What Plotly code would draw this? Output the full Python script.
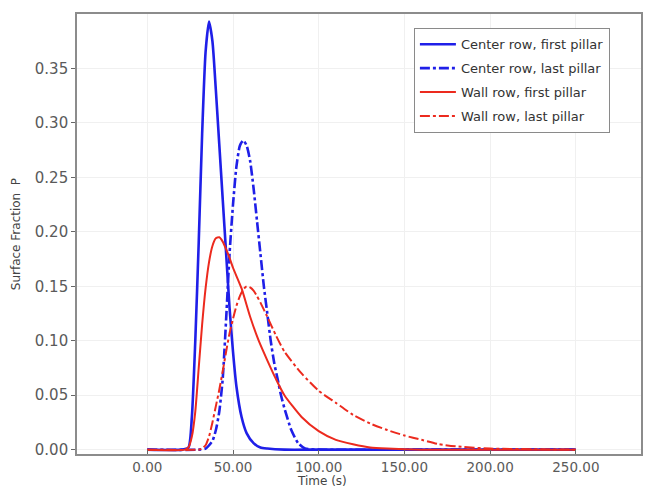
import plotly.graph_objects as go

# Time samples (s) and surface fraction P for each monitored pillar
t_center_first = [0, 20, 24, 26, 28, 30, 32, 34, 36, 38, 40, 42, 44, 46, 48, 50,
                  52, 55, 58, 62, 66, 70, 80, 100, 150, 200, 250]
p_center_first = [0, 0, 0.002, 0.03, 0.10, 0.19, 0.29, 0.365, 0.393, 0.375, 0.33,
                  0.28, 0.23, 0.18, 0.13, 0.09, 0.058, 0.03, 0.015, 0.006, 0.002,
                  0.001, 0, 0, 0, 0, 0]

t_center_last = [0, 30, 34, 38, 40, 42, 44, 46, 48, 50, 52, 54, 56, 58, 60, 62, 64,
                 66, 68, 70, 72, 74, 76, 78, 80, 84, 88, 92, 100, 150, 200, 250]
p_center_last = [0, 0, 0.001, 0.008, 0.018, 0.035, 0.065, 0.12, 0.18, 0.225, 0.26,
                 0.279, 0.284, 0.279, 0.265, 0.24, 0.21, 0.18, 0.15, 0.125, 0.10,
                 0.08, 0.065, 0.05, 0.038, 0.018, 0.006, 0.001, 0, 0, 0, 0]

t_wall_first = [0, 22, 24, 26, 28, 30, 32, 34, 36, 38, 40, 42, 44, 46, 48, 50, 55,
                60, 65, 70, 75, 80, 90, 100, 110, 120, 130, 140, 160, 200, 250]
p_wall_first = [0, 0, 0.002, 0.012, 0.035, 0.075, 0.115, 0.148, 0.172, 0.187, 0.194,
                0.195, 0.191, 0.184, 0.176, 0.167, 0.148, 0.122, 0.10, 0.082, 0.065,
                0.05, 0.03, 0.017, 0.009, 0.005, 0.002, 0.001, 0, 0, 0]

t_wall_last = [0, 30, 32, 34, 36, 38, 40, 42, 44, 46, 48, 50, 52, 54, 56, 58, 60, 62,
               64, 66, 70, 75, 80, 90, 100, 110, 120, 130, 140, 150, 160, 170, 180,
               200, 250]
p_wall_last = [0, 0, 0.001, 0.004, 0.012, 0.025, 0.04, 0.055, 0.072, 0.09, 0.107,
               0.12, 0.132, 0.141, 0.147, 0.150, 0.149, 0.146, 0.141, 0.135, 0.122,
               0.105, 0.09, 0.07, 0.054, 0.043, 0.032, 0.024, 0.018, 0.013, 0.009,
               0.005, 0.003, 0.001, 0]

series_names = ["Center row, first pillar", "Center row, last pillar",
                "Wall row, first pillar", "Wall row, last pillar"]

x_ticks = [0, 50, 100, 150, 200, 250]
y_ticks = [0, 0.05, 0.10, 0.15, 0.20, 0.25, 0.30, 0.35]

BLUE = "#1f1fe8"
RED = "#ec2a1e"
DASHDOT = "10px,3px,3px,3px"
FONT = "DejaVu Sans"

fig = go.Figure()
styles = [
    (t_center_first, p_center_first, BLUE, 2.6, "solid"),
    (t_center_last, p_center_last, BLUE, 2.6, DASHDOT),
    (t_wall_first, p_wall_first, RED, 2.0, "solid"),
    (t_wall_last, p_wall_last, RED, 2.0, DASHDOT),
]
for i, (t, p, color, width, dash) in enumerate(styles):
    fig.add_trace(go.Scatter(
        x=t, y=p, mode="lines", name=series_names[i], legendgroup=str(i),
        line=dict(color=color, width=width, dash=dash, shape="spline", smoothing=0.6),
    ))

fig.update_layout(
    width=646, height=488,
    margin=dict(l=77, r=3, t=14, b=34),
    paper_bgcolor="white", plot_bgcolor="white",
    font=dict(family=FONT, color="#555555"),
    showlegend=True,
    legend=dict(
        x=0.597, y=0.968, xanchor="left", yanchor="top",
        bgcolor="white", bordercolor="#8a8a8a", borderwidth=1.2,
        font=dict(family=FONT, size=13, color="#333333"),
        tracegroupgap=4, itemwidth=36,
    ),
    xaxis=dict(
        range=[-41, 288], tickvals=x_ticks, tickformat=".2f",
        showgrid=True, gridcolor="#f0f0f0", zeroline=False,
        showline=True, linecolor="#8c8c8c", linewidth=1.6, mirror=True,
        ticks="inside", ticklen=4, tickcolor="#666666",
        tickfont=dict(family=FONT, size=13.5, color="#5a5a5a"),
    ),
    yaxis=dict(
        range=[-0.004, 0.40], tickvals=y_ticks, tickformat=".2f",
        showgrid=True, gridcolor="#f0f0f0", zeroline=False,
        showline=True, linecolor="#8c8c8c", linewidth=1.6, mirror=True,
        ticks="outside", ticklen=4, tickcolor="#666666",
        tickfont=dict(family=FONT, size=15, color="#5a5a5a"),
    ),
    annotations=[
        dict(text="Time (s)", xref="paper", yref="paper",
             x=(323 - 77) / 566, y=-34 / 440, xanchor="center", yanchor="bottom",
             yshift=-1, showarrow=False, borderpad=0,
             font=dict(family=FONT, size=12, color="#444444")),
        dict(text="Surface Fraction  P", xref="paper", yref="paper",
             x=(16 - 77) / 566, y=0.5, xanchor="center", yanchor="middle",
             textangle=-90, showarrow=False,
             font=dict(family=FONT, size=12, color="#444444")),
    ],
)

fig.write_html("out.html")
